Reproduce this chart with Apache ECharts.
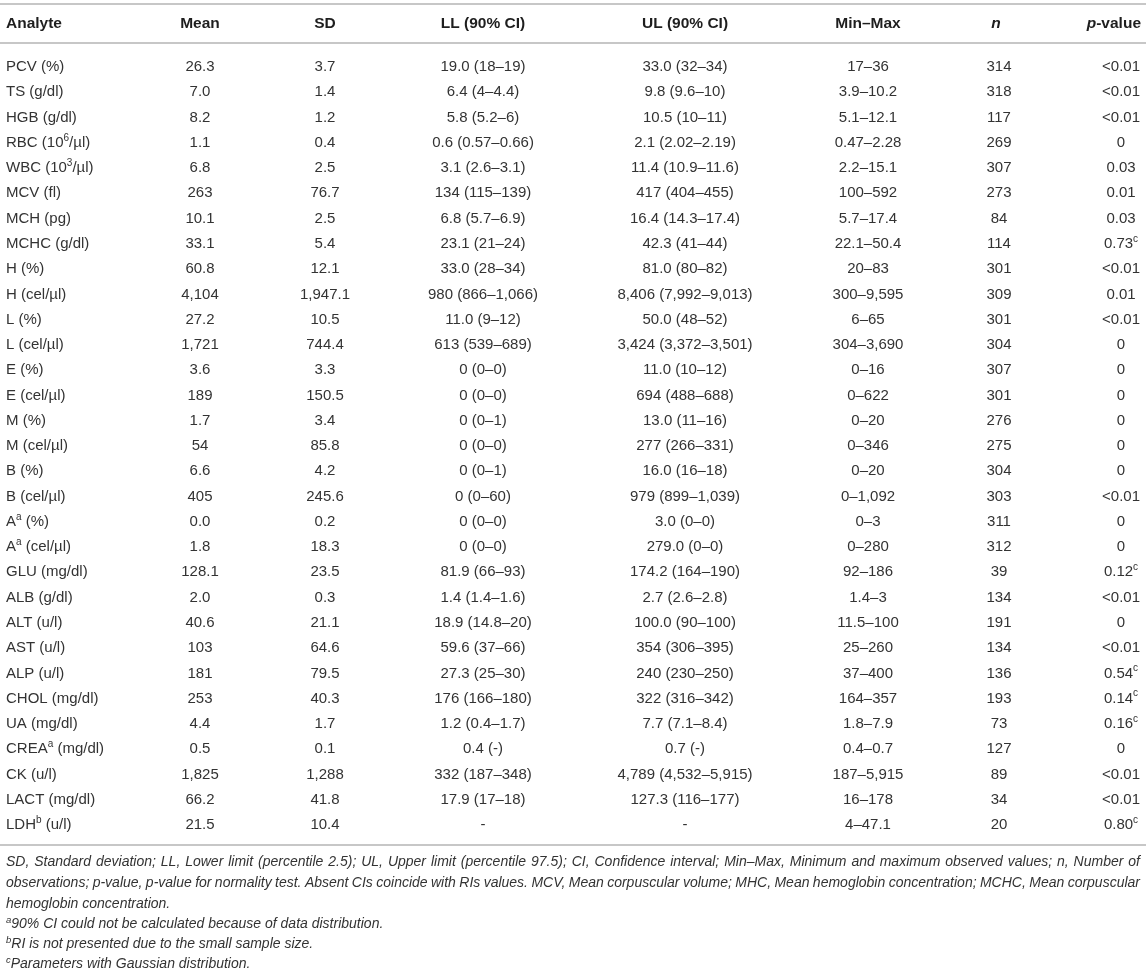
<!DOCTYPE html>
<html>
<head>
<meta charset="utf-8">
<title>Reference intervals</title>
<script src="https://cdn.jsdelivr.net/npm/echarts@6/dist/echarts.min.js"></script>
<style>
html, body { margin: 0; padding: 0; background: #fff; }
#main { width: 1146px; height: 972px; }
</style>
</head>
<body>
<div id="main"></div>
<script>
// table content, one array per column ({sup|x} = superscript)
var analytes = ['PCV (%)', 'TS (g/dl)', 'HGB (g/dl)', 'RBC (10{sup|6}/µl)', 'WBC (10{sup|3}/µl)', 'MCV (fl)',
    'MCH (pg)', 'MCHC (g/dl)', 'H (%)', 'H (cel/µl)', 'L (%)', 'L (cel/µl)', 'E (%)', 'E (cel/µl)', 'M (%)',
    'M (cel/µl)', 'B (%)', 'B (cel/µl)', 'A{sup|a} (%)', 'A{sup|a} (cel/µl)', 'GLU (mg/dl)', 'ALB (g/dl)',
    'ALT (u/l)', 'AST (u/l)', 'ALP (u/l)', 'CHOL (mg/dl)', 'UA (mg/dl)', 'CREA{sup|a} (mg/dl)', 'CK (u/l)',
    'LACT (mg/dl)', 'LDH{sup|b} (u/l)'];
var means = ['26.3', '7.0', '8.2', '1.1', '6.8', '263', '10.1', '33.1', '60.8', '4,104', '27.2', '1,721', '3.6',
    '189', '1.7', '54', '6.6', '405', '0.0', '1.8', '128.1', '2.0', '40.6', '103', '181', '253', '4.4', '0.5',
    '1,825', '66.2', '21.5'];
var sds = ['3.7', '1.4', '1.2', '0.4', '2.5', '76.7', '2.5', '5.4', '12.1', '1,947.1', '10.5', '744.4', '3.3',
    '150.5', '3.4', '85.8', '4.2', '245.6', '0.2', '18.3', '23.5', '0.3', '21.1', '64.6', '79.5', '40.3', '1.7',
    '0.1', '1,288', '41.8', '10.4'];
var lowerLimits = ['19.0 (18–19)', '6.4 (4–4.4)', '5.8 (5.2–6)', '0.6 (0.57–0.66)', '3.1 (2.6–3.1)',
    '134 (115–139)', '6.8 (5.7–6.9)', '23.1 (21–24)', '33.0 (28–34)', '980 (866–1,066)', '11.0 (9–12)',
    '613 (539–689)', '0 (0–0)', '0 (0–0)', '0 (0–1)', '0 (0–0)', '0 (0–1)', '0 (0–60)', '0 (0–0)', '0 (0–0)',
    '81.9 (66–93)', '1.4 (1.4–1.6)', '18.9 (14.8–20)', '59.6 (37–66)', '27.3 (25–30)', '176 (166–180)',
    '1.2 (0.4–1.7)', '0.4 (-)', '332 (187–348)', '17.9 (17–18)', '-'];
var upperLimits = ['33.0 (32–34)', '9.8 (9.6–10)', '10.5 (10–11)', '2.1 (2.02–2.19)', '11.4 (10.9–11.6)',
    '417 (404–455)', '16.4 (14.3–17.4)', '42.3 (41–44)', '81.0 (80–82)', '8,406 (7,992–9,013)', '50.0 (48–52)',
    '3,424 (3,372–3,501)', '11.0 (10–12)', '694 (488–688)', '13.0 (11–16)', '277 (266–331)', '16.0 (16–18)',
    '979 (899–1,039)', '3.0 (0–0)', '279.0 (0–0)', '174.2 (164–190)', '2.7 (2.6–2.8)', '100.0 (90–100)',
    '354 (306–395)', '240 (230–250)', '322 (316–342)', '7.7 (7.1–8.4)', '0.7 (-)', '4,789 (4,532–5,915)',
    '127.3 (116–177)', '-'];
var minMax = ['17–36', '3.9–10.2', '5.1–12.1', '0.47–2.28', '2.2–15.1', '100–592', '5.7–17.4', '22.1–50.4',
    '20–83', '300–9,595', '6–65', '304–3,690', '0–16', '0–622', '0–20', '0–346', '0–20', '0–1,092', '0–3',
    '0–280', '92–186', '1.4–3', '11.5–100', '25–260', '37–400', '164–357', '1.8–7.9', '0.4–0.7', '187–5,915',
    '16–178', '4–47.1'];
var nObs = [314, 318, 117, 269, 307, 273, 84, 114, 301, 309, 301, 304, 307, 301, 276, 275, 304, 303, 311, 312,
    39, 134, 191, 134, 136, 193, 73, 127, 89, 34, 20];
var pValues = ['<0.01', '<0.01', '<0.01', '0', '0.03', '0.01', '0.03', '0.73{sup|c}', '<0.01', '0.01', '<0.01',
    '0', '0', '0', '0', '0', '0', '<0.01', '0', '0', '0.12{sup|c}', '<0.01', '0', '<0.01', '0.54{sup|c}',
    '0.14{sup|c}', '0.16{sup|c}', '0', '<0.01', '<0.01', '0.80{sup|c}'];
var columnTitles = ['Analyte', 'Mean', 'SD', 'LL (90% CI)', 'UL (90% CI)', 'Min–Max', '{it|n}', '{it|p}-value'];

var notesJustified = [
    'SD, Standard deviation; LL, Lower limit (percentile 2.5); UL, Upper limit (percentile 97.5); CI, Confidence interval; Min–Max, Minimum and maximum observed values; n, Number of',
    'observations; p-value, p-value for normality test. Absent CIs coincide with RIs values. MCV, Mean corpuscular volume; MHC, Mean hemoglobin concentration; MCHC, Mean corpuscular'
];
var notesPlain = [
    'hemoglobin concentration.',
    '{sup|a}90% CI could not be calculated because of data distribution.',
    '{sup|b}RI is not presented due to the small sample size.',
    '{sup|c}Parameters with Gaussian distribution.'
];

// layout
var FONT = '"Liberation Sans", Arial, Helvetica, sans-serif';
var colX = [6, 200, 325, 483, 685, 868, 999, 1121];
var colAlign = ['left', 'center', 'center', 'center', 'center', 'center', 'center', 'center'];
var headX = [6, 200, 325, 483, 685, 868, 996, 1141];
var headAlign = ['left', 'center', 'center', 'center', 'center', 'center', 'center', 'right'];
var ruleColor = '#b4b4b4';

var supStyle = { fontSize: 10, fontFamily: FONT, verticalAlign: 'top', fill: '#333' };

function rowCells(i) {
    return [analytes[i], means[i], sds[i], lowerLimits[i], upperLimits[i], minMax[i], String(nObs[i]), pValues[i]];
}

// 每一行用自定义系列画出，位置由坐标轴换算
function renderRow(params, api) {
    var row = api.value(1);
    var cells = rowCells(row);
    var children = [];
    for (var c = 0; c < cells.length; c++) {
        var pt = api.coord([colX[c], row]);
        children.push({
            type: 'text',
            x: pt[0],
            y: pt[1],
            style: {
                text: cells[c],
                align: colAlign[c],
                verticalAlign: 'middle',
                fontSize: 15,
                fontFamily: FONT,
                lineHeight: 20,
                fill: '#333',
                rich: { sup: supStyle }
            }
        });
    }
    return { type: 'group', children: children };
}

// 两端对齐的脚注行
var measureCtx = document.createElement('canvas').getContext('2d');
function justifiedLine(text, y, left, right) {
    var font = 'italic 14px ' + FONT;
    measureCtx.font = font;
    var words = text.split(' ');
    var total = 0;
    var widths = words.map(function (w) {
        var wd = measureCtx.measureText(w).width;
        total += wd;
        return wd;
    });
    var gap = (right - left - total) / (words.length - 1);
    var x = left;
    var els = [];
    for (var i = 0; i < words.length; i++) {
        els.push({
            type: 'text', x: x, y: y,
            style: { text: words[i], font: font, fill: '#333', align: 'left', verticalAlign: 'middle' }
        });
        x += widths[i] + gap;
    }
    return els;
}

var graphics = [];
// rules
[4, 43, 845].forEach(function (y) {
    graphics.push({
        type: 'line', shape: { x1: 0, y1: y, x2: 1146, y2: y },
        style: { stroke: ruleColor, lineWidth: 1.5 }, silent: true
    });
});
// header
columnTitles.forEach(function (t, c) {
    graphics.push({
        type: 'text', x: headX[c], y: 24,
        style: {
            text: t, align: headAlign[c], verticalAlign: 'middle',
            fontSize: 15.5, fontWeight: 'bold', fontFamily: FONT, fill: '#1e1e1e',
            rich: { it: { fontSize: 15.5, fontWeight: 'bold', fontStyle: 'italic', fontFamily: FONT, fill: '#1e1e1e' } }
        }
    });
});
// footnotes
var noteY = [862, 883, 904, 924, 944, 964];
notesJustified.forEach(function (t, i) {
    graphics = graphics.concat(justifiedLine(t, noteY[i], 6, 1140));
});
notesPlain.forEach(function (t, i) {
    graphics.push({
        type: 'text', x: 6, y: noteY[i + 2],
        style: {
            text: t, align: 'left', verticalAlign: 'middle',
            fontSize: 14, fontStyle: 'italic', fontFamily: FONT, fill: '#333', lineHeight: 18,
            rich: { sup: { fontSize: 9.5, fontStyle: 'italic', fontFamily: FONT, verticalAlign: 'top', fill: '#333' } }
        }
    });
});

var chart = echarts.init(document.getElementById('main'));
var option = {
    animation: false,
    backgroundColor: '#fff',
    grid: { left: 0, right: 0, top: 54.4, bottom: 134.4 },
    xAxis: { type: 'value', min: 0, max: 1146, show: false },
    yAxis: { type: 'category', data: analytes, inverse: true, show: false },
    series: [{
        type: 'custom',
        renderItem: renderRow,
        encode: { x: 0, y: 1 },
        data: analytes.map(function (a, i) { return [0, i]; }),
        silent: true
    }],
    graphic: { elements: graphics }
};
chart.setOption(option);
</script>
</body>
</html>
